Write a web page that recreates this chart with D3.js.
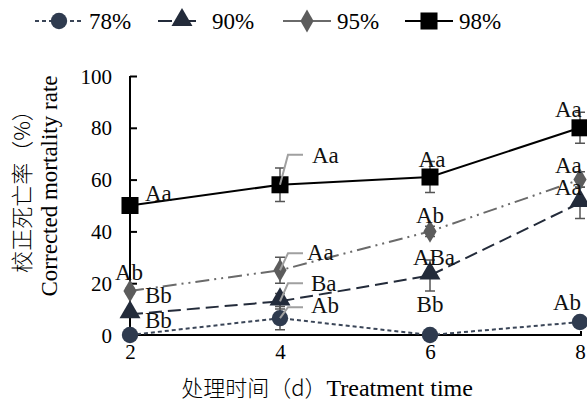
<!DOCTYPE html>
<html>
<head>
<meta charset="utf-8">
<script src="https://cdn.jsdelivr.net/npm/d3@7"></script>
<style>
  html, body { margin: 0; padding: 0; background: #fff; }
  svg { display: block; }
</style>
</head>
<body>
<svg id="chart" width="587" height="401" font-family="Liberation Serif, serif"></svg>
<script>
// Treatment time (days)
const days = [2, 4, 6, 8];
const yTicks = [0, 20, 40, 60, 80, 100];

// Corrected mortality rate (%) per relative humidity
const seriesNames = ["78%", "90%", "95%", "98%"];
const rate78 = [0, 6.5, 0, 5];
const rate90 = [8, 13, 23, 51];
const rate95 = [17, 25, 40, 60];
const rate98 = [50, 58, 61, 80];

// Standard errors
const err78 = [0, 4.5, 1.5, 2];
const err90 = [1, 3, 6, 6];
const err95 = [1, 5, 2, 3];
const err98 = [0, 6.5, 6, 6];

// Significance letters per time point
const sig78 = ["Bb", "Ab", "Bb", "Ab"];
const sig90 = ["Bb", "Ba", "ABa", "Aa"];
const sig95 = ["Ab", "Aa", "Ab", "Aa"];
const sig98 = ["Aa", "Aa", "Aa", "Aa"];

const values = [rate78, rate90, rate95, rate98];
const errors = [err78, err90, err95, err98];
const letters = [sig78, sig90, sig95, sig98];

const SERIF = "Liberation Serif, serif";
const CJK = "Noto Sans CJK SC, sans-serif";

const styles = [
  { stroke: "#3a4557", fill: "#2f3b4f", dash: "4,3", marker: "circle" },
  { stroke: "#232b3a", fill: "#232b3a", dash: "13,6", marker: "triangle" },
  { stroke: "#6a6a6a", fill: "#5c5c5c", dash: "14,5,2,5,2,5", marker: "diamond" },
  { stroke: "#000000", fill: "#000000", dash: null, marker: "square" }
];

// Letter placement relative to the point: [dx, baseline dy, anchor, leader top dy]
const letterLayout = [
  [[15, -7, "start"], [31, -5, "start", -11], [0, -23, "middle"], [-27, -12, "start"]],
  [[15, -11, "start"], [31, -10, "start", -18], [4, -10, "middle"], [-25, -8, "start"]],
  [[-1, -11, "middle"], [27, -10, "start", -17], [0, -8, "middle"], [-25, -7, "start"]],
  [[15, -5, "start"], [32, -22, "start", -30], [2, -10, "middle"], [-25, -11, "start"]]
];

const svg = d3.select("#chart");
const x = d3.scaleLinear().domain([2, 8]).range([130, 580]);
const y = d3.scaleLinear().domain([0, 100]).range([335, 76]);

// Y axis
const yAxis = svg.append("g").attr("transform", "translate(130,0)")
  .call(d3.axisRight(y).tickValues(yTicks).tickSize(7).tickPadding(0).tickFormat(d3.format("d")));
yAxis.attr("font-family", SERIF).attr("font-size", 21);
yAxis.select(".domain").attr("stroke", "#000").attr("stroke-width", 2).attr("d", "M0,76V335");
yAxis.selectAll(".tick line").attr("stroke", "#000").attr("stroke-width", 2);
yAxis.selectAll(".tick text").attr("x", -18).attr("text-anchor", "end")
  .attr("dy", "0.34em").attr("fill", "#000");

// X axis
const xAxis = svg.append("g").attr("transform", "translate(0,335)")
  .call(d3.axisBottom(x).tickValues(days).tickSize(0).tickPadding(9).tickFormat(d3.format("d")));
xAxis.attr("font-family", SERIF).attr("font-size", 21);
xAxis.select(".domain").attr("stroke", "#000").attr("stroke-width", 2).attr("d", "M130,0H581V-4");
xAxis.selectAll(".tick text").attr("fill", "#000").attr("dy", "0.71em");

// Axis titles
svg.append("text")
  .attr("transform", "translate(30,186) rotate(-90)")
  .attr("text-anchor", "middle")
  .attr("font-family", CJK).attr("font-size", 22).attr("font-weight", 300)
  .text("校正死亡率（%）");
svg.append("text")
  .attr("transform", "translate(57,186) rotate(-90)")
  .attr("text-anchor", "middle")
  .attr("font-family", SERIF).attr("font-size", 23)
  .text("Corrected mortality rate");
const xt = svg.append("text").attr("x", 327).attr("y", 396).attr("text-anchor", "middle")
  .attr("font-family", SERIF).attr("font-size", 24);
xt.append("tspan").attr("font-family", CJK).attr("font-weight", 300).attr("font-size", 22)
  .text("处理时间（d）");
xt.append("tspan").text("Treatment time");

// Marker shapes
const symbolFor = {
  circle: d3.symbol().type(d3.symbolCircle).size(210),
  triangle: d3.symbol().type(d3.symbolTriangle).size(190),
  diamond: d3.symbol().type(d3.symbolDiamond).size(150),
  square: d3.symbol().type(d3.symbolSquare).size(290)
};

const line = d3.line().x((d, i) => x(days[i])).y(d => y(d));

// Lines
values.forEach((vals, s) => {
  svg.append("path").attr("d", line(vals)).attr("fill", "none")
    .attr("stroke", styles[s].stroke).attr("stroke-width", 2)
    .attr("stroke-dasharray", styles[s].dash);
});

// Markers with error bars
values.forEach((vals, s) => {
  const g = svg.append("g");
  vals.forEach((v, i) => {
    const e = errors[s][i];
    if (e > 0) {
      const cx = x(days[i]);
      g.append("path")
        .attr("d", `M${cx},${y(v + e)}V${y(v - e)}M${cx - 5},${y(v + e)}H${cx + 5}M${cx - 5},${y(v - e)}H${cx + 5}`)
        .attr("stroke", "#555").attr("stroke-width", 1.5).attr("fill", "none");
    }
    g.append("path")
      .attr("transform", `translate(${x(days[i])},${y(v) + (styles[s].marker === "triangle" ? -2 : 0)})`)
      .attr("d", symbolFor[styles[s].marker]())
      .attr("fill", styles[s].fill);
  });
});

// Significance letters
values.forEach((vals, s) => {
  vals.forEach((v, i) => {
    const lay = letterLayout[s][i];
    const px = x(days[i]), py = y(v);
    if (lay[3] !== undefined) {
      const top = py + lay[3];
      svg.append("path")
        .attr("d", `M${px},${py}L${px + 8},${top}H${px + 23}`)
        .attr("fill", "none").attr("stroke", "#a0a0a0").attr("stroke-width", 2);
    }
    svg.append("text").attr("x", px + lay[0]).attr("y", py + lay[1])
      .attr("text-anchor", lay[2]).attr("fill", "#111")
      .attr("font-family", SERIF).attr("font-size", 23)
      .text(letters[s][i]);
  });
});

// Legend
const legendX = [35, 158, 283, 405];
const legend = svg.append("g");
seriesNames.forEach((name, s) => {
  const lx = legendX[s], ly = 21;
  legend.append("path").attr("d", `M${lx},${ly}H${lx + 48}`)
    .attr("stroke", styles[s].stroke).attr("stroke-width", 2.2)
    .attr("stroke-dasharray", s === 0 ? "4,3" : (s === 1 ? "14,10" : null));
  legend.append("path")
    .attr("transform", `translate(${lx + 24},${ly + (s === 1 ? -1 : 0)})`)
    .attr("d", symbolFor[styles[s].marker]())
    .attr("fill", styles[s].fill);
  legend.append("text").attr("x", lx + 54).attr("y", ly + 8)
    .attr("font-family", SERIF).attr("font-size", 23)
    .text(name);
});
</script>
</body>
</html>
